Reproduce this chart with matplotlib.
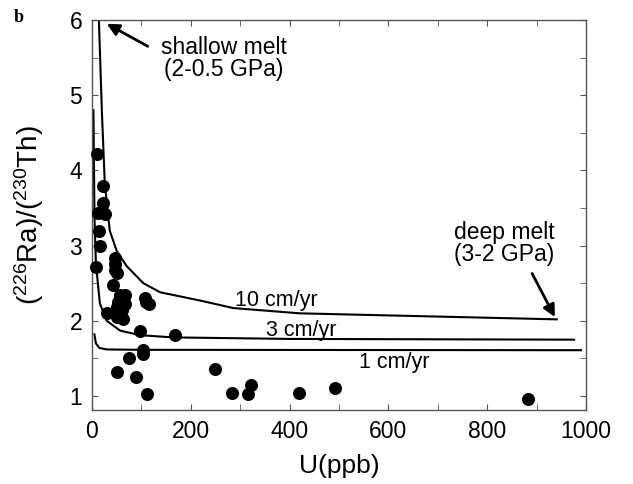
import numpy as np
import matplotlib
matplotlib.use("Agg")
import matplotlib.pyplot as plt
from matplotlib.ticker import MultipleLocator

plt.rcParams["font.family"] = ["Liberation Sans", "DejaVu Sans"]
plt.rcParams["mathtext.default"] = "regular"

# measured samples
u_ppb = [10, 22, 22, 12, 26, 14, 16, 8, 47, 47, 47, 50, 42, 57, 67, 53, 67,
         50, 60, 31, 51, 62, 107, 110, 116, 97, 168, 104, 104, 75, 51, 89,
         111, 249, 284, 315, 321, 419, 492, 883]
ra_th = [4.22, 3.79, 3.57, 3.44, 3.42, 3.20, 2.99, 2.71, 2.84, 2.76, 2.67,
         2.63, 2.48, 2.34, 2.34, 2.25, 2.23, 2.18, 2.14, 2.11, 2.05, 2.02,
         2.30, 2.25, 2.22, 1.86, 1.81, 1.61, 1.56, 1.50, 1.32, 1.26, 1.03,
         1.36, 1.04, 1.03, 1.15, 1.04, 1.11, 0.96]

# model curves
u_10 = [14, 20, 26, 36, 50, 70, 104, 138, 219, 286, 421, 941]
ra_10 = [6.0, 4.79, 3.82, 3.2, 2.93, 2.73, 2.5, 2.38, 2.27, 2.17, 2.1, 2.02]
u_3 = [3, 5, 8, 16, 30, 57, 97, 165, 400, 976]
ra_3 = [4.8, 3.4, 2.76, 2.23, 2.0, 1.87, 1.81, 1.78, 1.76, 1.75]
u_1 = [5, 8, 15, 30, 100, 990]
ra_1 = [1.82, 1.7, 1.64, 1.62, 1.615, 1.61]

fig = plt.figure(figsize=(6.33, 4.84), dpi=100)
ax = fig.add_axes([0.1453, 0.1529, 0.7804, 0.8058])

ax.plot(u_10, ra_10, color="black", linewidth=1.5)
ax.plot(u_3, ra_3, color="black", linewidth=1.5)
ax.plot(u_1, ra_1, color="black", linewidth=1.5)
ax.scatter(u_ppb, ra_th, s=70, color="black", zorder=3, clip_on=False)

ax.text(290, 2.27, "10 cm/yr", fontsize=15.5, va="center")
ax.text(352, 1.87, "3 cm/yr", fontsize=15.5, va="center")
ax.text(540, 1.44, "1 cm/yr", fontsize=15.5, va="center")

ax.text(267, 5.49, "shallow melt\n(2-0.5 GPa)", ha="center", va="center",
        fontsize=16.5, linespacing=0.95)
ax.text(834, 3.03, "deep melt\n(3-2 GPa)", ha="center", va="center",
        fontsize=16.5, linespacing=0.95)

arrow = dict(arrowstyle="-|>", color="black", lw=2, shrinkA=0, shrinkB=0,
             mutation_scale=18)
ax.annotate("", xy=(30, 5.95), xytext=(113, 5.65), arrowprops=arrow)
ax.annotate("", xy=(937, 2.05), xytext=(891, 2.63), arrowprops=arrow)

ax.set_xlim(0, 1000)
ax.set_ylim(0.815, 6)
ax.xaxis.set_major_locator(MultipleLocator(200))
ax.xaxis.set_minor_locator(MultipleLocator(100))
ax.yaxis.set_major_locator(MultipleLocator(1))
ax.yaxis.set_minor_locator(MultipleLocator(0.5))
ax.tick_params(which="both", direction="in", top=True, right=True,
               labelsize=16.5, color="#555555", pad=7)
ax.tick_params(which="major", length=4)
ax.tick_params(which="minor", length=4)
for sp in ax.spines.values():
    sp.set_color("#555555")
    sp.set_linewidth(1.0)

ax.set_xlabel("U(ppb)", fontsize=19, labelpad=8)
ax.set_ylabel("($^{226}$Ra)/($^{230}$Th)", fontsize=20, labelpad=17)

fig.text(14 / 633, 1 - 18 / 484, "b", fontsize=13, fontweight="bold",
         family="Liberation Serif", va="center", ha="left")

fig.savefig("out.png", dpi=100)
